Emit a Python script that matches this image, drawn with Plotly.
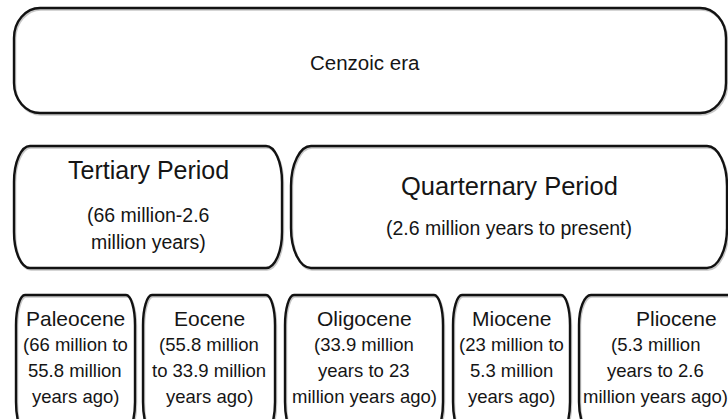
import plotly.graph_objects as go

# ---- content ----
era_labels = ["Cenzoic era"]
period_titles = ["Tertiary Period", "Quarternary Period"]
period_ranges = [["(66 million-2.6", "million years)"],
                 ["(2.6 million years to present)"]]
epoch_titles = ["Paleocene", "Eocene", "Oligocene", "Miocene", "Pliocene"]
epoch_ranges = [["(66 million to", "55.8 million", "years ago)"],
                ["(55.8 million", "to 33.9 million", "years ago)"],
                ["(33.9 million", "years to 23", "million years ago)"],
                ["(23 million to", "5.3 million", "years ago)"],
                ["(5.3 million", "years to 2.6", "million years ago)"]]

# ---- layout geometry (pixels of the 728x419 picture) ----
W, H = 728, 419
era_box = [(14, 8, 726, 113, 26, 30)]
period_boxes = [(14, 146, 282, 268, 16, 36), (291, 146, 727, 268, 20, 40)]
epoch_boxes = [(16, 295, 135, 432, 9, 30), (143, 295, 275, 432, 9, 30),
               (285, 295, 443, 432, 9, 30), (453, 295, 570, 432, 9, 30),
               (579, 295, 742, 432, 12, 30)]
epoch_text_x = [75, 209, 364, 511, 655]
epoch_title_dx = [0, 0, 0, 0, 21]

LINE = "#121212"
TEXT = "#151515"
FONT = "Liberation Sans, Arial, sans-serif"


def rr_path(x0, y0, x1, y1, rx, ry):
    k = 0.5523
    return (f"M {x0+rx},{y0} L {x1-rx},{y0} "
            f"C {x1-rx+k*rx},{y0} {x1},{y0+ry-k*ry} {x1},{y0+ry} "
            f"L {x1},{y1-ry} "
            f"C {x1},{y1-ry+k*ry} {x1-rx+k*rx},{y1} {x1-rx},{y1} "
            f"L {x0+rx},{y1} "
            f"C {x0+rx-k*rx},{y1} {x0},{y1-ry+k*ry} {x0},{y1-ry} "
            f"L {x0},{y0+ry} "
            f"C {x0},{y0+ry-k*ry} {x0+rx-k*rx},{y0} {x0+rx},{y0} Z")


fig = go.Figure()
fig.add_trace(go.Scatter(x=[0, W], y=[0, H], mode="markers",
                         marker=dict(opacity=0), hoverinfo="skip",
                         showlegend=False))

shapes = []
for b in era_box + period_boxes + epoch_boxes:
    x0, y0, x1, y1, rx, ry = b
    shapes.append(dict(type="path", path=rr_path(x0 + 1, y0 + 1.5, x1 + 1, y1 + 1.5, rx, ry),
                       line=dict(color="rgba(0,0,0,0.22)", width=2.5),
                       xref="x", yref="y", layer="above"))
    shapes.append(dict(type="path", path=rr_path(x0, y0, x1, y1, rx, ry),
                       line=dict(color=LINE, width=2.4),
                       xref="x", yref="y", layer="above"))

ann = []


def add_text(x, y, t, size):
    ann.append(dict(x=x, y=y, text=t, showarrow=False, xref="x", yref="y",
                    xanchor="center", yanchor="middle",
                    font=dict(family=FONT, size=size, color=TEXT)))


# era
for lab, b in zip(era_labels, era_box):
    add_text((b[0] + b[2]) / 2 - 5, 62, lab, 20.5)

# periods
p_cx = [(b[0] + b[2]) / 2 for b in period_boxes]
add_text(p_cx[0], 170, period_titles[0], 25)
for i, line in enumerate(period_ranges[0]):
    add_text(p_cx[0], 215 + 27 * i, line, 19.5)
add_text(p_cx[1], 186, period_titles[1], 25.5)
for i, line in enumerate(period_ranges[1]):
    add_text(p_cx[1], 228 + 27 * i, line, 19.5)

# epochs
for j, (t, lines) in enumerate(zip(epoch_titles, epoch_ranges)):
    cx = epoch_text_x[j]
    add_text(cx + epoch_title_dx[j], 318, t, 21)
    for i, line in enumerate(lines):
        add_text(cx, 344 + 26 * i, line, 18.5)

fig.update_layout(
    width=W, height=H,
    margin=dict(l=0, r=0, t=0, b=0),
    paper_bgcolor="white", plot_bgcolor="white",
    xaxis=dict(range=[0, W], visible=False, fixedrange=True),
    yaxis=dict(range=[H, 0], visible=False, fixedrange=True),
    shapes=shapes, annotations=ann,
    showlegend=False,
)

fig.write_html("out.html",
               config={"displayModeBar": False, "staticPlot": True},
               post_script="document.body.style.margin='0px';"
                           "document.body.style.overflow='hidden';")
